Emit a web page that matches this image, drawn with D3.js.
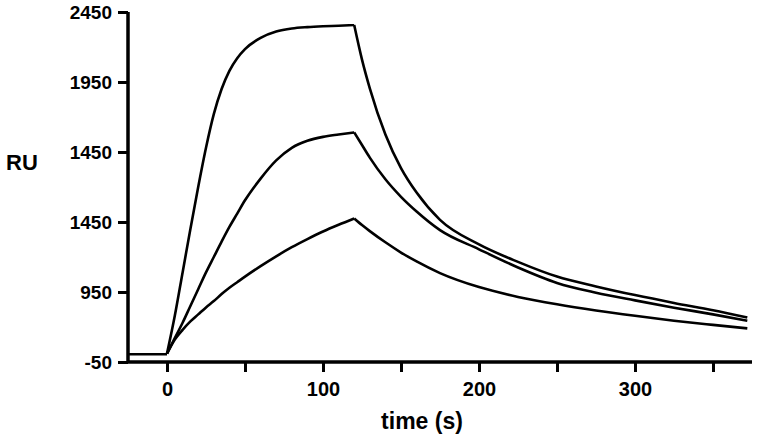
<!DOCTYPE html>
<html>
<head>
<meta charset="utf-8">
<script src="https://cdn.jsdelivr.net/npm/d3@7"></script>
<style>
  body { margin: 0; background: #fff; }
  text { font-family: "Liberation Sans", Arial, sans-serif; font-weight: bold; fill: #000; }
</style>
</head>
<body>
<div class="grafico"></div>
<script>
// tempi (s) della fase di associazione e di dissociazione
var tempiBase = [-25, 0];
var tempiAss = [0, 5, 10, 15, 20, 25, 30, 35, 40, 45, 50, 60, 70, 80, 90, 100, 110, 120];
var tempiDis = [120, 125, 130, 140, 150, 160, 175, 200, 225, 250, 275, 300, 325, 350, 372];

// linea di base prima dell'iniezione
var valoriBase = [5, 5];

// curva alta
var altaAss = [10, 280, 590, 900, 1200, 1480, 1720, 1900, 2030, 2120, 2185, 2265, 2310, 2332, 2342, 2348, 2352, 2357];
var altaDis = [2357, 2110, 1905, 1575, 1335, 1160, 965, 790, 665, 560, 490, 428, 372, 320, 268];

// curva media
var mediaAss = [10, 120, 230, 350, 470, 590, 700, 810, 915, 1010, 1105, 1260, 1390, 1480, 1530, 1558, 1575, 1590];
var mediaDis = [1590, 1500, 1410, 1255, 1130, 1025, 892, 755, 625, 515, 445, 390, 338, 290, 245];

// curva bassa
var bassaAss = [10, 110, 180, 240, 290, 340, 385, 435, 480, 520, 560, 635, 705, 770, 828, 882, 930, 975];
var bassaDis = [975, 928, 885, 805, 732, 668, 585, 485, 415, 362, 318, 280, 245, 215, 190];

// tick asse y (le etichette sono quelle del grafico originale)
var tickY = [-50, 450, 950, 1450, 1950, 2450];
var etichetteY = ["-50", "950", "1450", "1450", "1950", "2450"];
var tickX = [0, 50, 100, 150, 200, 250, 300, 350];

var w = 758,
    h = 437;

var svg = d3.select(".grafico")
    .append("svg")
    .attr("width", w)
    .attr("height", h);

var scalaX = d3.scaleLinear()
    .domain([-25, 375])
    .range([128, 752]);

var scalaY = d3.scaleLinear()
    .domain([-50, 2450])
    .range([362, 12]);

// asse y
var assey = svg.append("g")
    .attr("transform", "translate(128,0)")
    .call(d3.axisLeft(scalaY)
        .tickValues(tickY)
        .tickSize(10)
        .tickPadding(6)
        .tickFormat(function (d, i) { return etichetteY[i]; }));

// asse x
var assex = svg.append("g")
    .attr("transform", "translate(0,362)")
    .call(d3.axisBottom(scalaX)
        .tickValues(tickX)
        .tickSize(10)
        .tickPadding(10)
        .tickFormat(function (d) { return d % 100 == 0 ? d : ""; }));

assey.select(".domain").attr("stroke-width", 3.5).attr("d", "M0,12V362");
assex.select(".domain").attr("stroke-width", 3.5).attr("d", "M128,0H752");
svg.selectAll(".tick line").attr("stroke-width", 3);
assey.selectAll(".tick text").style("font-size", "19px").attr("dy", "0.33em");
assex.selectAll(".tick text").style("font-size", "20px");

// titoli degli assi
svg.append("text")
    .attr("x", 22)
    .attr("y", 170)
    .attr("text-anchor", "middle")
    .style("font-size", "22px")
    .text("RU");

svg.append("text")
    .attr("x", 422)
    .attr("y", 429)
    .attr("text-anchor", "middle")
    .style("font-size", "23px")
    .text("time (s)");

// funzione per le linee
var linea = d3.line()
    .x(function (d) { return scalaX(d[0]); })
    .y(function (d) { return scalaY(d[1]); })
    .curve(d3.curveMonotoneX);

function disegnaTratto(tempi, valori) {
    var punti = tempi.map(function (t, i) { return [t, valori[i]]; });
    svg.append("path")
        .attr("d", linea(punti))
        .attr("fill", "none")
        .attr("stroke", "black")
        .attr("stroke-width", 2.6)
        .attr("stroke-linejoin", "round");
}

disegnaTratto(tempiBase, valoriBase);

var curve = [[altaAss, altaDis], [mediaAss, mediaDis], [bassaAss, bassaDis]];
for (var i = 0; i < curve.length; i++) {
    disegnaTratto(tempiAss, curve[i][0]);
    disegnaTratto(tempiDis, curve[i][1]);
}
</script>
</body>
</html>
